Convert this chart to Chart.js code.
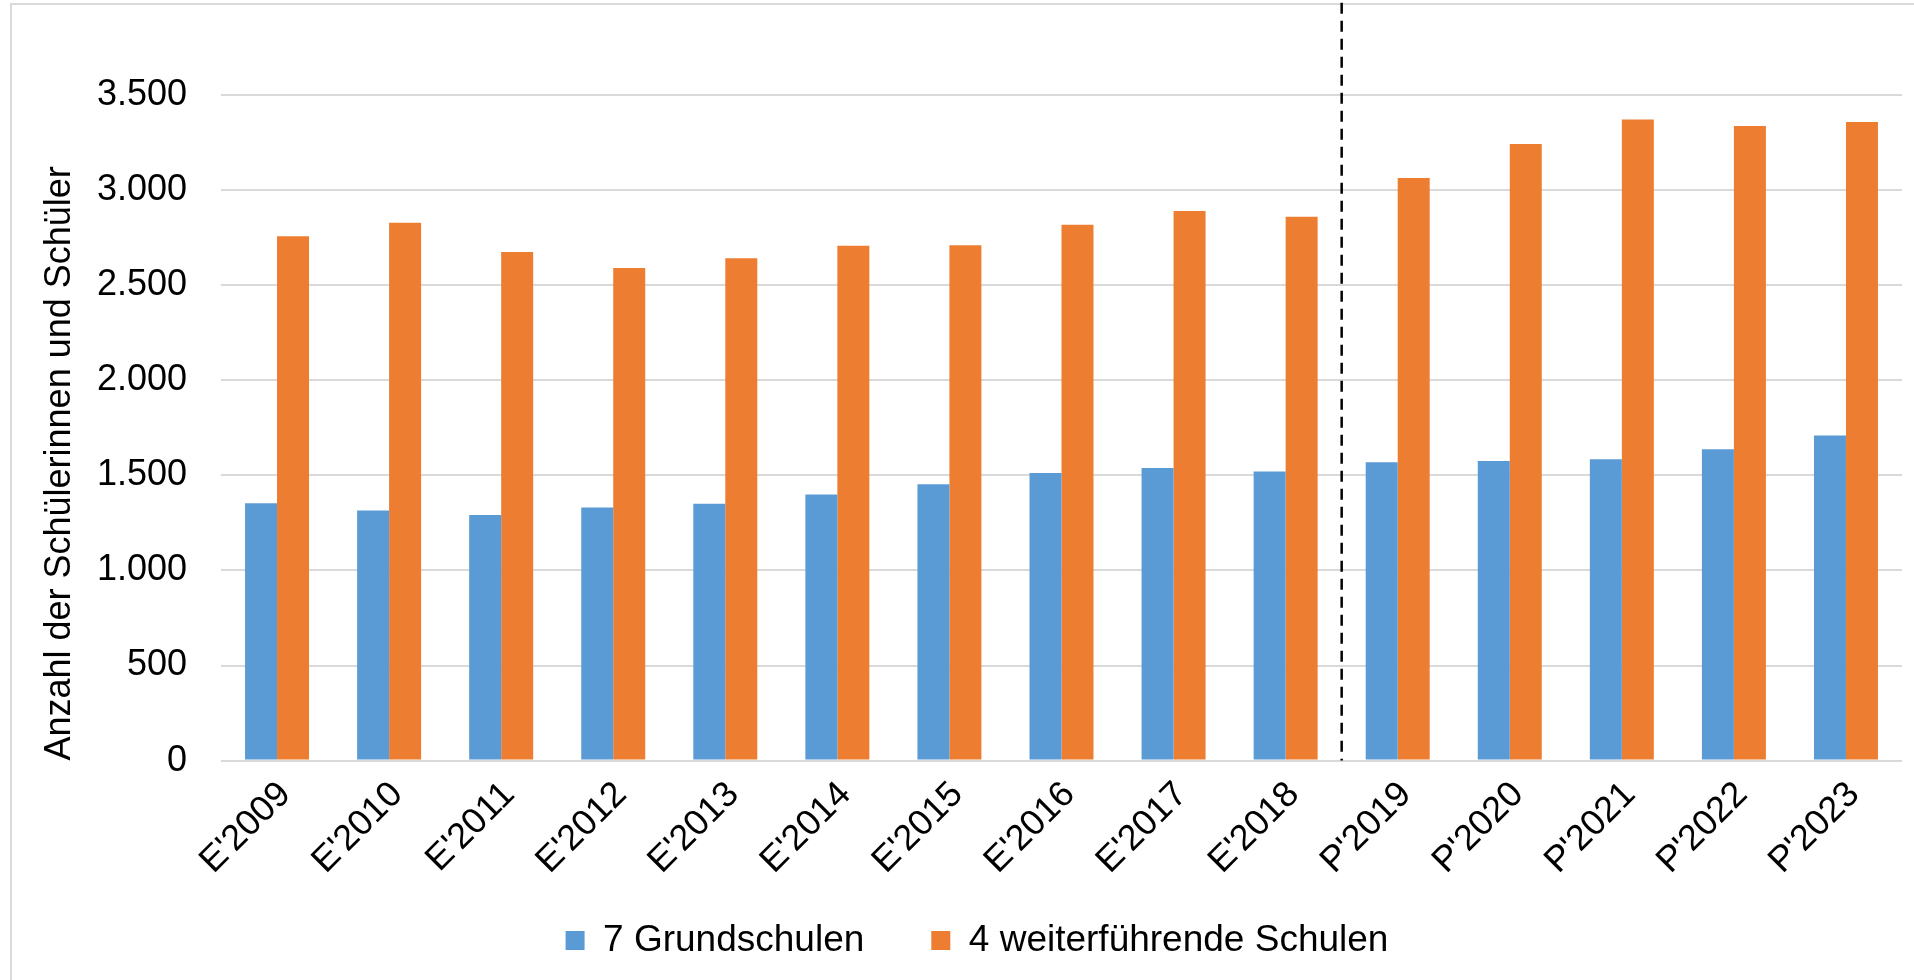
<!DOCTYPE html>
<html lang="de">
<head>
<meta charset="utf-8">
<title>Schülerzahlen</title>
<script src="https://cdn.jsdelivr.net/npm/chart.js@4.4.1/dist/chart.umd.min.js"></script>
<style>
    html, body { margin: 0; padding: 0; background: #fff; }
    #wrap { position: relative; width: 1914px; height: 980px; }
    #rahmen {
        position: absolute; left: 10px; top: 3px; right: -10px; bottom: -10px;
        border-left: 2px solid #d9d9d9; border-top: 2px solid #d9d9d9;
        pointer-events: none;
    }
    canvas { position: absolute; left: 0; top: 0; }
</style>
</head>
<body>
<div id="wrap">
    <div id="rahmen"></div>
    <canvas id="schuelerChart" width="1914" height="980"></canvas>
</div>
<script>
// Jahre (E = Ist-Werte, P = Prognose)
const jahre = [
    "E'2009", "E'2010", "E'2011", "E'2012", "E'2013", "E'2014", "E'2015",
    "E'2016", "E'2017", "E'2018", "P'2019", "P'2020", "P'2021", "P'2022", "P'2023"
];

const grundschulen = [1354, 1315, 1291, 1331, 1351, 1400, 1453, 1512, 1539, 1521, 1569, 1576, 1585, 1637, 1710];
const weiterfuehrende = [2758, 2828, 2675, 2591, 2642, 2707, 2710, 2818, 2890, 2860, 3064, 3243, 3372, 3337, 3358];

const serienNamen = ["7 Grundschulen", "4 weiterführende Schulen"];
const achsenTitel = "Anzahl der Schülerinnen und Schüler";

// Trennlinie zwischen letztem Ist-Jahr und erster Prognose
const letzterIstIndex = 9;

const FONT = "'Liberation Sans', Arial, sans-serif";

function tausender(v) {
    return String(v).replace(/\B(?=(\d{3})+(?!\d))/g, ".");
}

// ---------------- TRENNLINIE ----------------
const trennlinie = {
    id: "trennlinie",
    afterDatasetsDraw(chart) {
        const x = chart.scales.x;
        const y = chart.scales.y;
        const px = (x.getPixelForValue(letzterIstIndex) + x.getPixelForValue(letzterIstIndex + 1)) / 2;
        const ctx = chart.ctx;
        ctx.save();
        ctx.strokeStyle = "#000";
        ctx.lineWidth = 2.5;
        ctx.setLineDash([11, 7]);
        ctx.beginPath();
        ctx.moveTo(px, y.getPixelForValue(3985));
        ctx.lineTo(px, y.getPixelForValue(0));
        ctx.stroke();
        ctx.restore();
    }
};

function initChart() {
    const ctx = document.getElementById("schuelerChart");

    new Chart(ctx, {
        type: "bar",
        data: {
            labels: jahre,
            datasets: [
                {
                    label: serienNamen[0],
                    data: grundschulen,
                    backgroundColor: "#5B9BD5",
                },
                {
                    label: serienNamen[1],
                    data: weiterfuehrende,
                    backgroundColor: "#ED7D31",
                },
            ],
        },
        options: {
            responsive: false,
            animation: false,
            devicePixelRatio: 1,
            layout: {
                padding: { left: 52, right: 12, top: 0, bottom: 11 },
            },
            datasets: {
                bar: {
                    categoryPercentage: 0.571,
                    barPercentage: 1,
                },
            },
            plugins: {
                tooltip: { enabled: false },
                legend: {
                    position: "bottom",
                    labels: {
                        color: "#000",
                        font: { family: FONT, size: 37 },
                        boxWidth: 19,
                        boxHeight: 19,
                        padding: 67,
                    },
                },
            },
            scales: {
                x: {
                    grid: { display: false, drawTicks: false },
                    border: { display: false },
                    ticks: {
                        color: "#000",
                        font: { family: FONT, size: 36 },
                        minRotation: 45,
                        maxRotation: 45,
                        padding: 13,
                        labelOffset: 8,
                        autoSkip: false,
                    },
                    afterFit(scale) {
                        scale.height = 94.4;
                        scale.paddingLeft = 0;
                        scale.paddingRight = 0;
                        // Beschriftungen nicht am Achsenbereich abschneiden
                        scale._computeLabelArea = () => undefined;
                    },
                },
                y: {
                    min: 0,
                    max: 4000,
                    grid: {
                        color: "#d9d9d9",
                        lineWidth: 2,
                        drawTicks: false,
                    },
                    border: { display: false },
                    ticks: {
                        stepSize: 500,
                        color: "#000",
                        font: { family: FONT, size: 36 },
                        padding: 34,
                        callback: (v) => (v > 3500 ? null : tausender(v)),
                    },
                    title: {
                        display: true,
                        text: achsenTitel,
                        align: "start",
                        color: "#000",
                        font: { family: FONT, size: 36, lineHeight: 1.2 },
                        padding: { top: -14, bottom: 0 },
                    },
                    afterFit(scale) {
                        scale.width = 169;
                        scale.paddingTop = 0;
                        scale.paddingBottom = 0;
                    },
                },
            },
        },
        plugins: [trennlinie],
    });
}

document.addEventListener("DOMContentLoaded", initChart);
</script>
</body>
</html>
